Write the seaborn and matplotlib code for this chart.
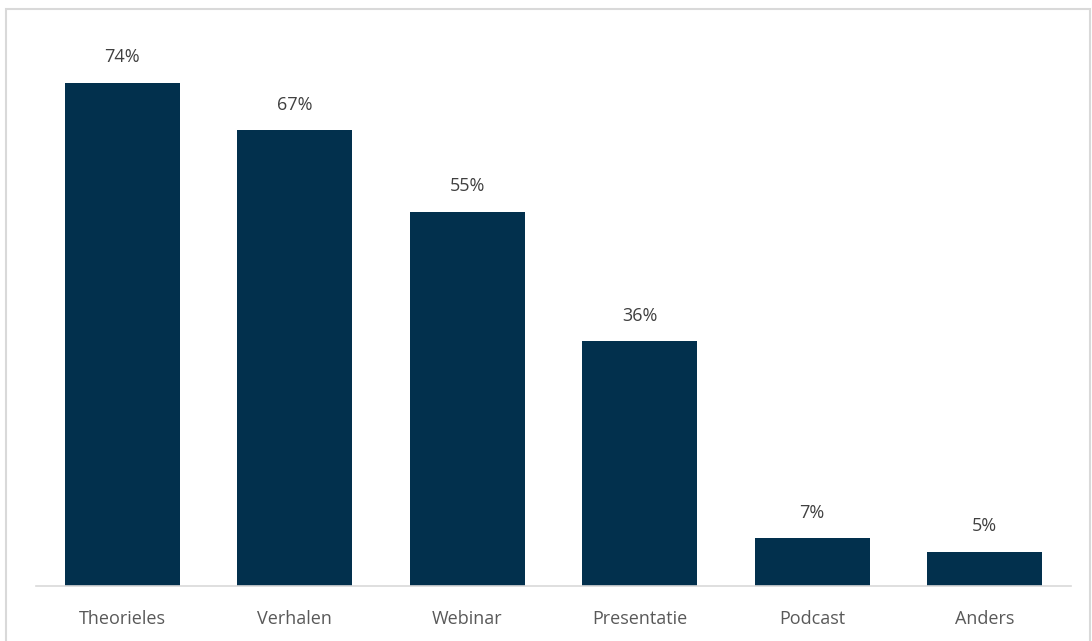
import matplotlib
matplotlib.use("Agg")
import matplotlib.pyplot as plt
import seaborn as sns
import pandas as pd
from matplotlib.patches import Rectangle

categories = ["Theorieles", "Verhalen", "Webinar", "Presentatie", "Podcast", "Anders"]
values = [74, 67, 55, 36, 7, 5]

sns.set_theme(style="white")
plt.rcParams['font.family'] = ['Open Sans', 'DejaVu Sans']

df = pd.DataFrame({"cat": categories, "val": values})

fig = plt.figure(figsize=(10.92, 6.41), dpi=100)
ax = fig.add_axes([36/1092, 55/641, (1071-36)/1092, (586-42)/641])

sns.barplot(data=df, x="cat", y="val", color="#02304D", saturation=1, width=0.667,
            linewidth=0, ax=ax)

ax.set_ylim(0, 80)
ax.set_xlim(-0.5, len(categories) - 0.5)
ax.set_xlabel("")
ax.set_ylabel("")
ax.set_yticks([])
for s in ["top", "left", "right"]:
    ax.spines[s].set_visible(False)
ax.spines["bottom"].set_color("#d9d9d9")
ax.spines["bottom"].set_linewidth(1.2)
ax.tick_params(axis="x", length=0, pad=17, labelsize=13, labelcolor="#595959")

for i, v in enumerate(values):
    ax.annotate(f"{v}%", (i, v), xytext=(0, 12), textcoords="offset points",
                ha="center", va="bottom", fontsize=13, color="#404040")

fig.patches.append(Rectangle((6/1092, -0.01), (1090-6)/1092, (641-9)/641 + 0.01,
                             transform=fig.transFigure, fill=False,
                             edgecolor="#d9d9d9", linewidth=1.5))

fig.savefig("out.png", dpi=100)
